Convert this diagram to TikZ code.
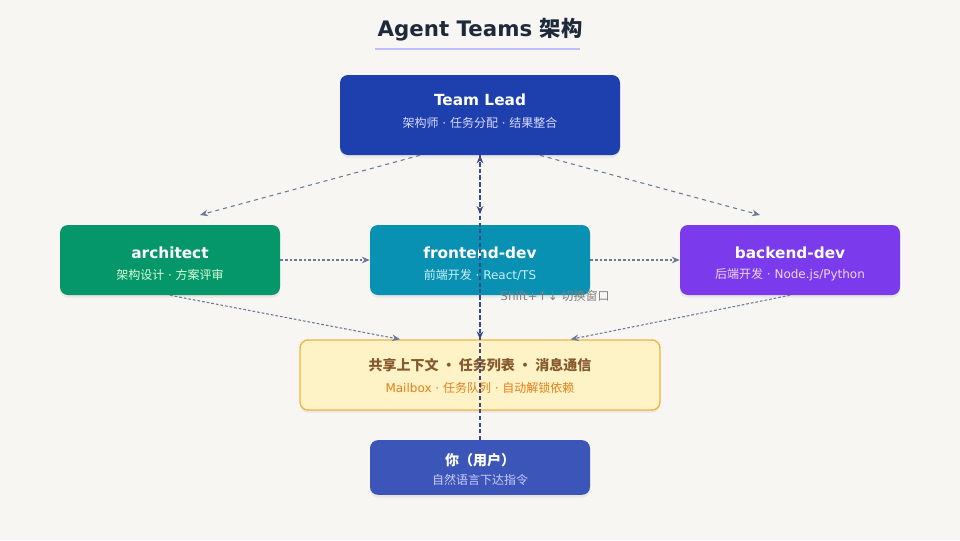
\documentclass[tikz,border=0pt]{standalone}
\usepackage{fontspec}
\setmainfont{DejaVu Sans}
\newfontfamily\cjk{Noto Sans CJK SC}
\usetikzlibrary{arrows.meta,shadows}
\definecolor{bg}{HTML}{F7F6F3}
\definecolor{lead}{HTML}{1E40AF}
\definecolor{arch}{HTML}{059669}
\definecolor{front}{HTML}{0891B2}
\definecolor{back}{HTML}{7C3AED}
\definecolor{shfill}{HTML}{FEF3C7}
\definecolor{shdraw}{HTML}{F0B440}
\definecolor{usr}{HTML}{3B55B8}
\definecolor{conn}{HTML}{6B7A94}
\definecolor{vconn}{HTML}{3A4A85}
\definecolor{ttl}{HTML}{1E293B}
\begin{document}
\begin{tikzpicture}[x=0.75pt,y=-0.75pt,
 box/.style={rounded corners=6pt,draw=none,text=white,align=center,inner sep=0pt,drop shadow={opacity=0.12,shadow xshift=0pt,shadow yshift=-2pt}},
 t/.style={font=\bfseries\fontsize{11.5}{13}\selectfont},
 s/.style={font=\fontsize{9}{11}\selectfont},
 con/.style={draw=conn,dashed,line width=0.8pt,-{Stealth[length=6pt,width=5pt]}},
 hcon/.style={draw=conn,dash pattern=on 2pt off 1.5pt,line width=0.8pt,-{Stealth[length=6pt,width=5pt]}},
 vcon/.style={draw=vconn,dash pattern=on 3pt off 2pt,line width=1.1pt,-{Stealth[length=6pt,width=5pt]}}]
\fill[bg] (0,0) rectangle (960,540);
\node[font=\bfseries\fontsize{16}{18}\selectfont,text=ttl] (title) at (480,30) {Agent Teams {\cjk\bfseries 架构}};
\draw[blue!25,line width=1pt] (375,49) -- (580,49);
\node[box,fill=lead,minimum width=210pt,minimum height=60pt] (lead) at (480,115) {};
\node[t,text=white] at (480,100) {Team Lead};
\node[s,text=white!85!blue] at (480,123) {{\cjk 架构师} · {\cjk 任务分配} · {\cjk 结果整合}};
\node[box,fill=arch,minimum width=165pt,minimum height=52.5pt] (arch) at (170,260) {};
\node[t,text=white] at (170,253) {architect};
\node[s,text=white!85!green] at (170,275) {{\cjk 架构设计} · {\cjk 方案评审}};
\node[box,fill=front,minimum width=165pt,minimum height=52.5pt] (front) at (480,260) {};
\node[t,text=white] at (480,253) {frontend-dev};
\node[s,text=white!80!cyan] at (480,275) {{\cjk 前端开发} · React/TS};
\node[box,fill=back,minimum width=165pt,minimum height=52.5pt] (back) at (790,260) {};
\node[t,text=white] at (790,253) {backend-dev};
\node[s,text=white!85!violet] at (790,275) {{\cjk 后端开发} · Node.js/Python};
\node[box,fill=shfill,draw=shdraw,line width=1pt,minimum width=270pt,minimum height=52.5pt] (sh) at (480,375) {};
\node[font=\cjk\bfseries\fontsize{10.5}{12}\selectfont,text=brown!70!black] at (480,365) {共享上下文 · 任务列表 · 消息通信};
\node[s,text=orange!60!brown] at (480,388) {Mailbox · {\cjk 任务队列} · {\cjk 自动解锁依赖}};
\node[box,fill=usr,minimum width=165pt,minimum height=41pt] (usr) at (480,467.5) {};
\node[font=\cjk\bfseries\fontsize{10.5}{12}\selectfont,text=white] at (480,460) {你（用户）};
\node[s,text=white!80!blue] at (480,480) {\cjk 自然语言下达指令};
\node[s,text=gray] (hint) at (555,296) {Shift+↑↓ {\cjk 切换窗口}};
\coordinate (a1) at (200,215); \coordinate (a2) at (760,215);
\draw[con] ([xshift=-45pt]lead.south) -- (a1);
\draw[con] ([xshift=45pt]lead.south) -- (a2);
\draw[hcon] (arch.east) -- (front.west);
\draw[hcon] (front.east) -- (back.west);
\draw[hcon] (arch.south) -- ([xshift=-60pt]sh.north);
\draw[hcon] (back.south) -- ([xshift=68pt]sh.north);
\draw[vcon] (usr.north) -- (lead.south);
\draw[vcon] (lead.south) -- ([yshift=8pt]front.north);
\draw[vcon] (front.south) -- (sh.north);
\end{tikzpicture}
\end{document}
